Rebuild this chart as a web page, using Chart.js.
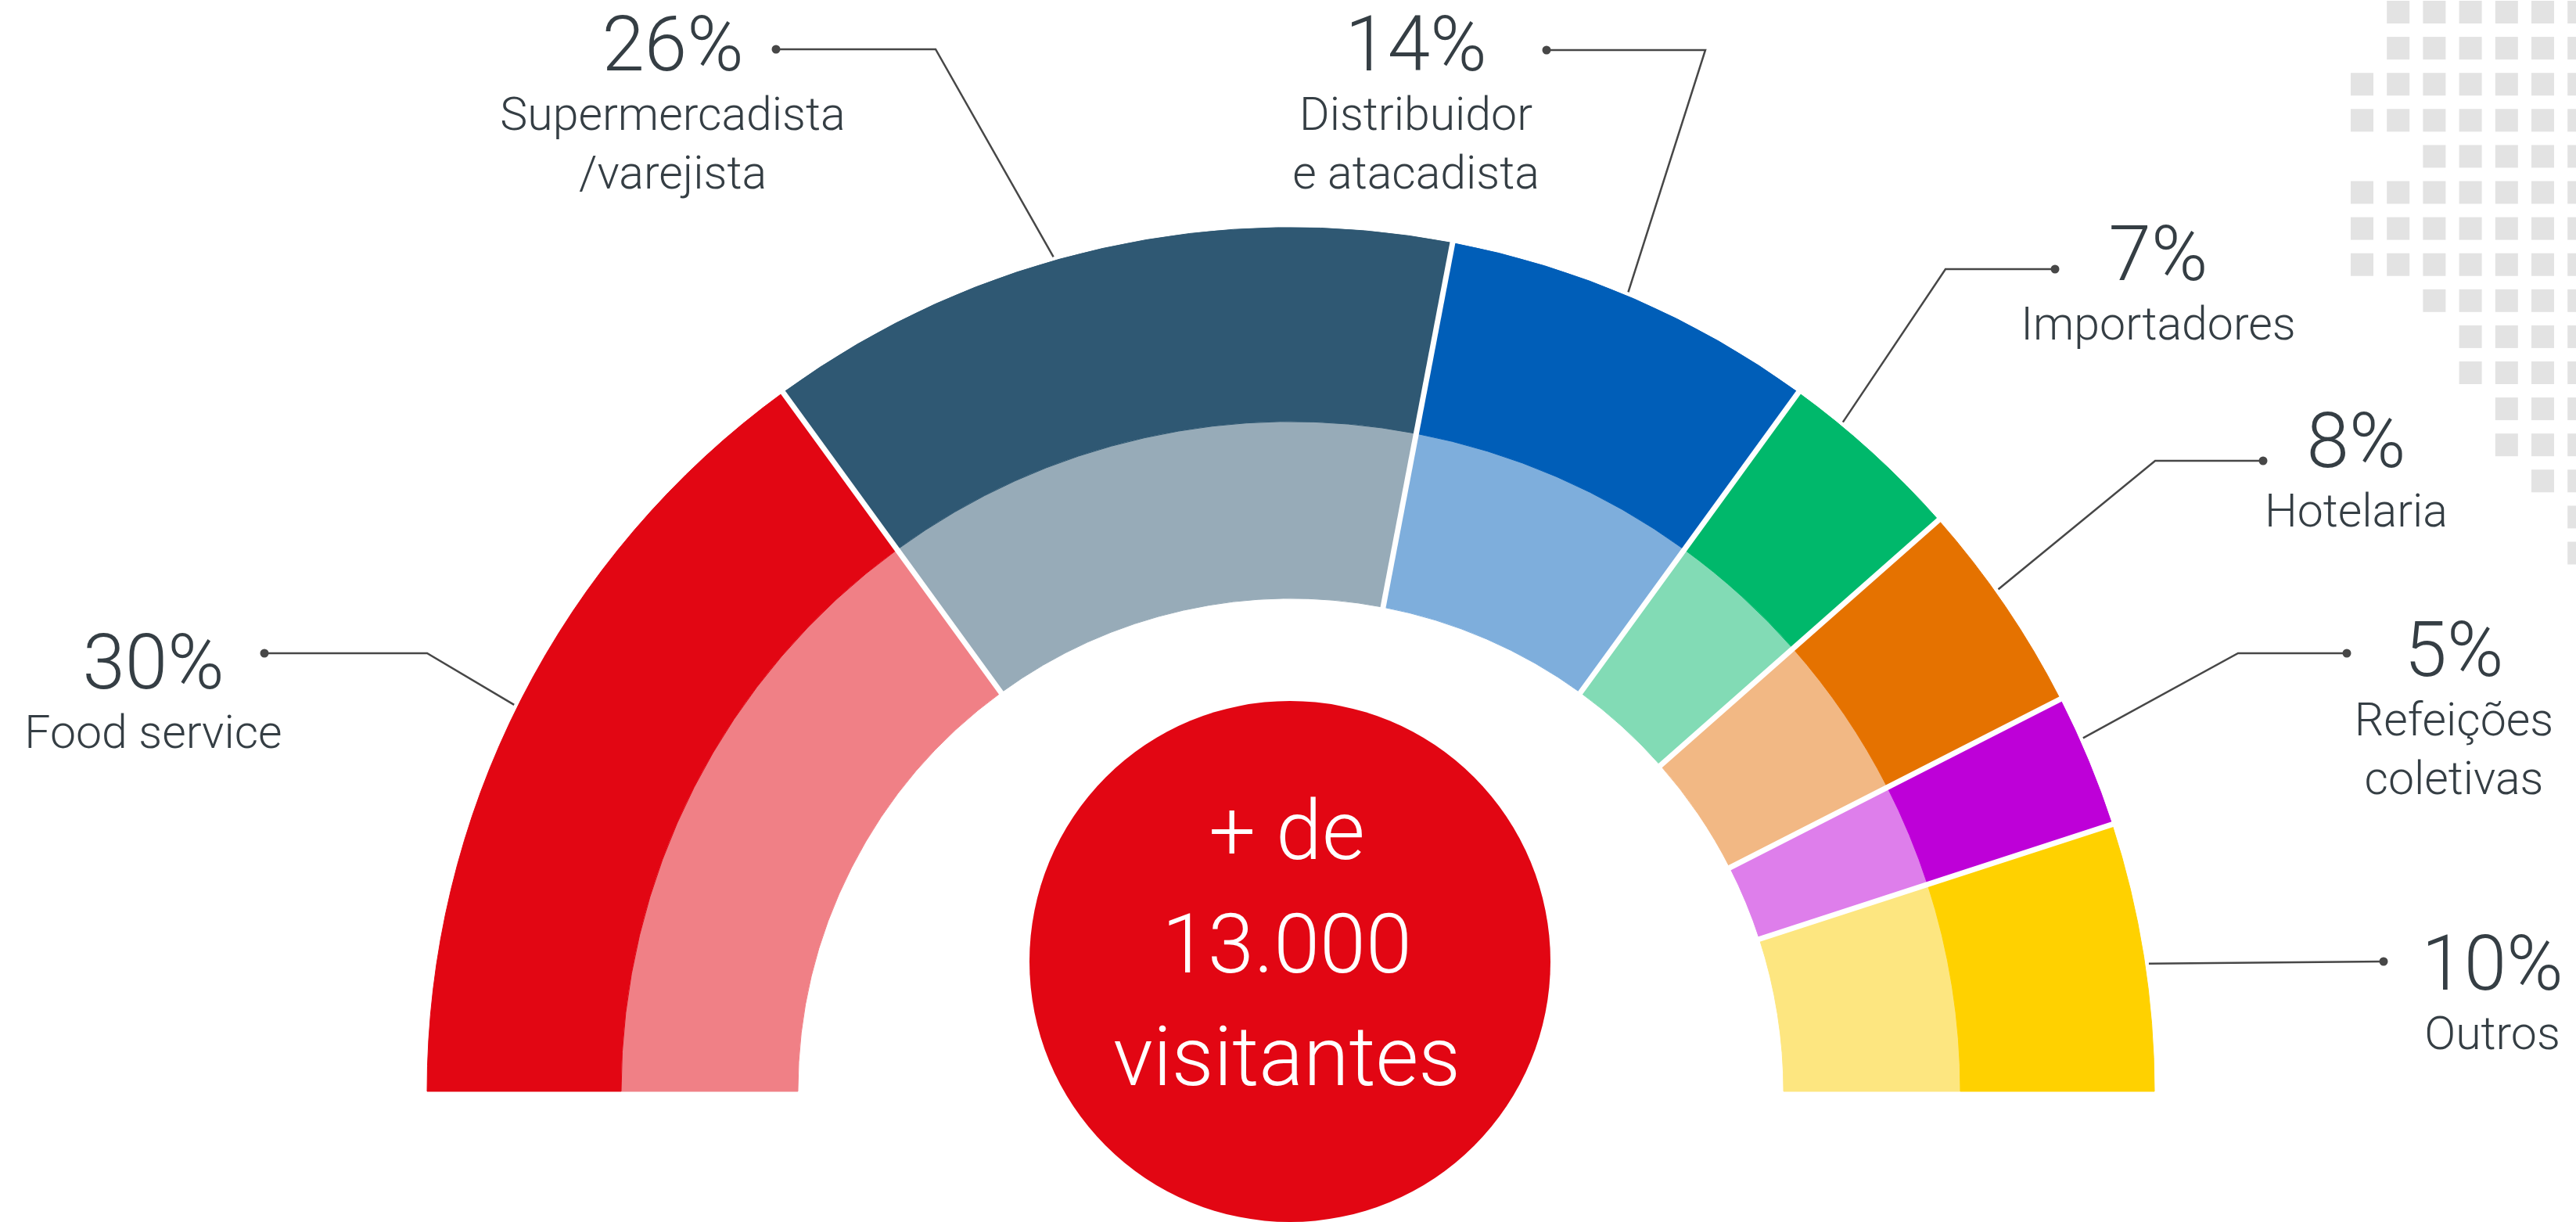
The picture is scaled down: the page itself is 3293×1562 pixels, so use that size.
<!DOCTYPE html>
<html lang="pt-BR">
<head>
<meta charset="utf-8">
<title>Perfil dos visitantes</title>
<script src="https://cdn.jsdelivr.net/npm/chart.js@4.4.1/dist/chart.umd.min.js"></script>
<style>
  html, body { margin: 0; padding: 0; background: #fff; overflow: hidden; }
  #wrap { position: relative; width: 3293px; height: 1562px; }
  canvas { display: block; }
</style>
</head>
<body>
<div id="wrap"><canvas id="visitorsChart" width="3293" height="1562"></canvas></div>
<script>
const categories = [
    ["Food service"],
    ["Supermercadista", "/varejista"],
    ["Distribuidor", "e atacadista"],
    ["Importadores"],
    ["Hotelaria"],
    ["Refeições", "coletivas"],
    ["Outros"]
];
const percentages = [30, 26, 14, 7, 8, 5, 10];
const darkColors  = ["#e20613", "#2f5873", "#005eb8", "#00b86b", "#e57200", "#be00d8", "#ffd100"];
const lightColors = ["#f08086", "#97abb8", "#7eaedc", "#82dbb5", "#f2b884", "#de7eeb", "#fde680"];
const centerLines = ["+ de", "13.000", "visitantes"];

// callout placement: text centre x, baseline of the % line, dot and elbow of the leader,
// anchor = where along the slice the leader touches the arc (0 = slice start, 1 = end)
const callouts = [
    { x: 196,  y: 880,  dot: [338, 835],  elbow: [546, 835],  anchor: 0.49 },
    { x: 860,  y: 90,   dot: [992, 63],   elbow: [1196, 63],  anchor: 0.43 },
    { x: 1810, y: 90,   dot: [1977, 64],  elbow: [2180, 64],  anchor: 0.48 },
    { x: 2759, y: 358,  dot: [2627, 344], elbow: [2487, 344], anchor: 0.28 },
    { x: 3012, y: 597,  dot: [2893, 589], elbow: [2755, 589], anchor: 0.42 },
    { x: 3137, y: 864,  dot: [3000, 835], elbow: [2861, 835], anchor: 0.33 },
    { x: 3186, y: 1265, dot: [3047, 1229], elbow: null,       anchor: 0.53 }
];

// first column of grey squares in each row of the corner pattern
const gridRowStart = [1, 1, 0, 0, 2, 0, 0, 0, 2, 3, 3, 4, 4, 5, 6, 6];

const FONT = 'Roboto, "Noto Sans", sans-serif';
const TEXT_COLOR = "#353e44";

const decorPlugin = {
    id: "decor",
    beforeDraw(chart) {
        const ctx = chart.ctx;
        ctx.save();
        ctx.fillStyle = "#e3e3e3";
        gridRowStart.forEach((start, row) => {
            for (let col = start; col <= 6; col++) {
                ctx.fillRect(3005 + col * 46.2, 1 + row * 46.1, 29, 29);
            }
        });
        ctx.restore();
    },
    afterDatasetsDraw(chart) {
        const ctx = chart.ctx;
        const outer = chart.getDatasetMeta(0).data;
        const inner = chart.getDatasetMeta(1).data;
        const cx = outer[0].x, cy = outer[0].y;
        const rOut = outer[0].outerRadius;
        const rIn = inner[0].innerRadius;

        // white cuts between the slices, across both rings
        ctx.save();
        ctx.strokeStyle = "#ffffff";
        ctx.lineWidth = 7;
        for (let i = 1; i < outer.length; i++) {
            const a = outer[i].startAngle;
            ctx.beginPath();
            ctx.moveTo(cx + Math.cos(a) * (rIn - 3), cy + Math.sin(a) * (rIn - 3));
            ctx.lineTo(cx + Math.cos(a) * (rOut + 3), cy + Math.sin(a) * (rOut + 3));
            ctx.stroke();
        }
        ctx.restore();

        // red disc with the visitor count
        ctx.save();
        ctx.fillStyle = "#e20613";
        ctx.beginPath();
        ctx.arc(cx - 1, cy - 166, 333, 0, Math.PI * 2);
        ctx.fill();
        ctx.fillStyle = "#ffffff";
        ctx.textAlign = "center";
        ctx.textBaseline = "alphabetic";
        ctx.font = "300 106px " + FONT;
        centerLines.forEach((line, i) => {
            ctx.fillText(line, cx - 5, cy - 297 + i * 144.5);
        });
        ctx.restore();

        // leaders and labels
        ctx.save();
        outer.forEach((arc, i) => {
            const c = callouts[i];
            const a = arc.startAngle + c.anchor * (arc.endAngle - arc.startAngle);
            const tip = [cx + Math.cos(a) * (rOut + 5), cy + Math.sin(a) * (rOut + 5)];

            ctx.strokeStyle = "#474747";
            ctx.lineWidth = 2.5;
            ctx.beginPath();
            ctx.moveTo(c.dot[0], c.dot[1]);
            if (c.elbow) ctx.lineTo(c.elbow[0], c.elbow[1]);
            ctx.lineTo(tip[0], tip[1]);
            ctx.stroke();
            ctx.fillStyle = "#474747";
            ctx.beginPath();
            ctx.arc(c.dot[0], c.dot[1], 5.5, 0, Math.PI * 2);
            ctx.fill();

            ctx.fillStyle = TEXT_COLOR;
            ctx.textAlign = "center";
            ctx.textBaseline = "alphabetic";
            ctx.font = "300 98px " + FONT;
            ctx.fillText(percentages[i] + "%", c.x, c.y);
            ctx.font = "300 59px " + FONT;
            categories[i].forEach((line, k) => {
                ctx.fillText(line, c.x, c.y + 76 + k * 75);
            });
        });
        ctx.restore();
    }
};

const ctx = document.getElementById("visitorsChart").getContext("2d");
new Chart(ctx, {
    type: "doughnut",
    data: {
        labels: categories.map(l => l.join(" ")),
        datasets: [
            {
                data: percentages,
                backgroundColor: darkColors,
                borderColor: darkColors,
                borderWidth: 1,
                weight: 248
            },
            {
                data: percentages,
                backgroundColor: lightColors,
                borderColor: lightColors,
                borderWidth: 1,
                weight: 226
            }
        ]
    },
    options: {
        responsive: false,
        devicePixelRatio: 1,
        animation: false,
        events: [],
        rotation: -90,
        circumference: 180,
        radius: 1104,
        cutout: "57.07%",
        layout: { padding: { left: 7, right: 0, top: 124, bottom: 0 } },
        plugins: {
            legend: { display: false },
            tooltip: { enabled: false }
        }
    },
    plugins: [decorPlugin]
});
</script>
</body>
</html>
